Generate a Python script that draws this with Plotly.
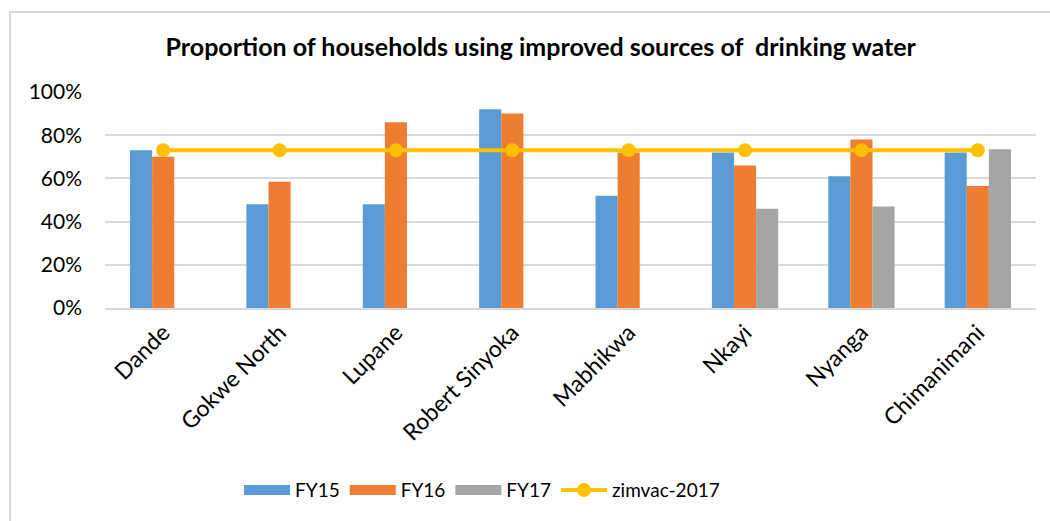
import plotly.graph_objects as go

categories = ["Dande", "Gokwe North", "Lupane", "Robert Sinyoka", "Mabhikwa", "Nkayi", "Nyanga", "Chimanimani"]
fy15 = [0.73, 0.48, 0.48, 0.92, 0.52, 0.72, 0.61, 0.72]
fy16 = [0.70, 0.585, 0.86, 0.90, 0.72, 0.66, 0.78, 0.565]
fy17 = [None, None, None, None, None, 0.46, 0.47, 0.735]
zimvac = [0.73, 0.73, 0.73, 0.73, 0.73, 0.73, 0.73, 0.73]

FONT = "Lato, Open Sans, sans-serif"
bar_series = [("FY15", fy15, "#5B9BD5"), ("FY16", fy16, "#ED7D31"), ("FY17", fy17, "#A5A5A5")]

fig = go.Figure()
for name, vals, col in bar_series:
    fig.add_trace(go.Bar(name=name, x=categories, y=vals, legendgroup=name, showlegend=False,
                         marker=dict(color=col, line=dict(width=0))))
# legend swatches as wide rectangles
for name, vals, col in bar_series:
    fig.add_trace(go.Scatter(name=name, x=[None], y=[None], mode="lines", legendgroup=name,
                             line=dict(color=col, width=14)))
fig.add_trace(go.Scatter(name="zimvac-2017", x=categories, y=zimvac, mode="lines+markers",
                         line=dict(color="#FFC000", width=4), marker=dict(color="#FFC000", size=14)))

fig.update_layout(
    width=1050, height=521,
    margin=dict(l=105, r=14, t=92, b=213),
    paper_bgcolor="white", plot_bgcolor="white",
    barmode="group", bargap=0.43, bargroupgap=0,
    font=dict(family=FONT, size=18, color="#000000"),
    title=dict(text="<b>Proportion of households using improved sources of  drinking water</b>",
               x=0.515, xref="container", xanchor="center", y=0.91, yref="container", yanchor="middle",
               font=dict(family=FONT, size=25, color="#000000")),
    xaxis=dict(tickangle=-45, showline=True, linecolor="#d9d9d9", linewidth=2, ticks="",
               tickfont=dict(family=FONT, size=23, color="#000000")),
    yaxis=dict(range=[0, 1.0], dtick=0.2, tickformat=".0%", showgrid=True, gridcolor="#d9d9d9",
               gridwidth=2, zeroline=False, ticks="", ticklen=0, ticklabelstandoff=22,
               tickfont=dict(family=FONT, size=21, color="#000000")),
    legend=dict(orientation="h", x=0.405, xanchor="center", y=-0.843, yanchor="middle",
                font=dict(family=FONT, size=19, color="#000000"), itemwidth=46),
    showlegend=True,
    shapes=[dict(type="rect", xref="paper", yref="paper", x0=-0.102, x1=1.2, y0=-1.6, y1=1.37,
                 line=dict(color="#d9d9d9", width=2), layer="below")],
)

fig.write_html("out.html")
